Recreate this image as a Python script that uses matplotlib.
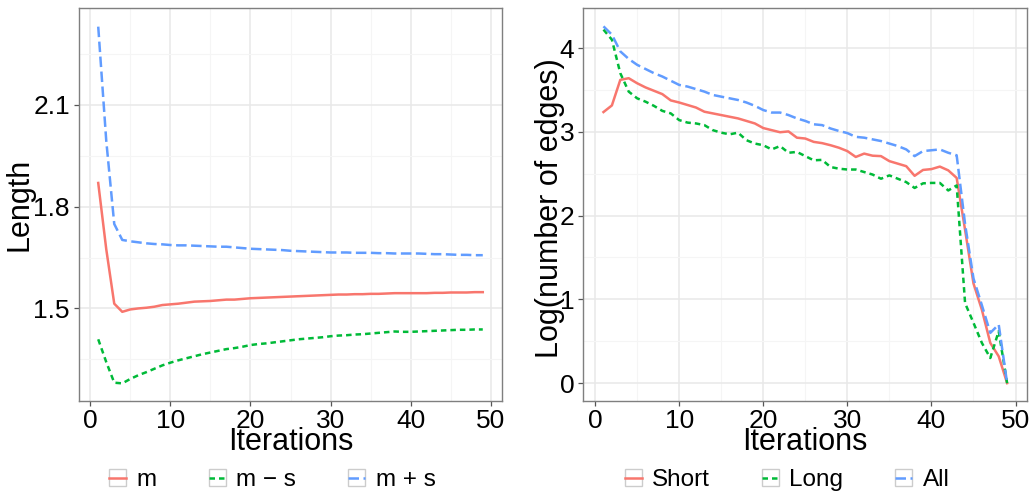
import numpy as np
import matplotlib
matplotlib.use("Agg")
import matplotlib.pyplot as plt
from matplotlib.lines import Line2D
from matplotlib.patches import Rectangle
from matplotlib.legend_handler import HandlerTuple
from matplotlib.ticker import MultipleLocator

plt.rcParams['font.family'] = ['Liberation Sans', 'DejaVu Sans']

# iterations
it = np.arange(1, 50)

# left panel: edge length, mean and mean -/+ sd
m = [1.870, 1.675, 1.514, 1.490, 1.497, 1.500, 1.502, 1.505, 1.510, 1.512,
     1.514, 1.517, 1.520, 1.521, 1.522, 1.524, 1.526, 1.526, 1.528, 1.530,
     1.531, 1.532, 1.533, 1.534, 1.535, 1.536, 1.537, 1.538, 1.539, 1.540,
     1.541, 1.541, 1.542, 1.542, 1.543, 1.543, 1.544, 1.545, 1.545, 1.545,
     1.545, 1.545, 1.546, 1.546, 1.547, 1.547, 1.547, 1.548, 1.548]
m_minus_s = [1.409, 1.342, 1.281, 1.279, 1.292, 1.303, 1.312, 1.322, 1.332, 1.340,
             1.347, 1.353, 1.359, 1.365, 1.370, 1.375, 1.380, 1.383, 1.387, 1.392,
             1.395, 1.397, 1.400, 1.403, 1.406, 1.409, 1.411, 1.413, 1.415, 1.418,
             1.420, 1.421, 1.423, 1.424, 1.426, 1.428, 1.430, 1.432, 1.431, 1.431,
             1.432, 1.433, 1.434, 1.435, 1.436, 1.437, 1.437, 1.438, 1.438]
m_plus_s = [2.331, 1.995, 1.749, 1.702, 1.698, 1.695, 1.692, 1.690, 1.689, 1.687,
            1.686, 1.686, 1.685, 1.684, 1.683, 1.682, 1.682, 1.680, 1.678, 1.676,
            1.675, 1.674, 1.673, 1.672, 1.670, 1.669, 1.668, 1.667, 1.666, 1.665,
            1.665, 1.665, 1.664, 1.664, 1.664, 1.663, 1.663, 1.662, 1.662, 1.662,
            1.662, 1.661, 1.660, 1.660, 1.659, 1.658, 1.658, 1.657, 1.657]

# right panel: log(number of edges)
short = [3.236, 3.315, 3.62, 3.64, 3.58, 3.53, 3.49, 3.45, 3.375, 3.35,
         3.32, 3.29, 3.24, 3.22, 3.20, 3.18, 3.16, 3.13, 3.10, 3.045,
         3.02, 2.995, 3.005, 2.93, 2.92, 2.88, 2.865, 2.84, 2.81, 2.77,
         2.70, 2.74, 2.715, 2.71, 2.65, 2.62, 2.59, 2.475, 2.545, 2.555,
         2.585, 2.54, 2.45, 1.83, 1.19, 0.875, 0.48, 0.32, 0.0]
long_ = [4.22, 4.10, 3.70, 3.48, 3.40, 3.36, 3.31, 3.25, 3.22, 3.14,
         3.11, 3.10, 3.08, 3.02, 2.99, 2.97, 2.99, 2.90, 2.86, 2.84,
         2.79, 2.83, 2.75, 2.76, 2.71, 2.66, 2.665, 2.58, 2.56, 2.55,
         2.55, 2.52, 2.49, 2.44, 2.48, 2.44, 2.40, 2.33, 2.385, 2.39,
         2.39, 2.30, 2.36, 0.955, 0.72, 0.48, 0.30, 0.62, 0.0]
all_ = [4.259, 4.16, 3.96, 3.87, 3.80, 3.75, 3.70, 3.66, 3.61, 3.56,
        3.54, 3.51, 3.48, 3.44, 3.42, 3.40, 3.38, 3.35, 3.31, 3.26,
        3.23, 3.23, 3.20, 3.16, 3.13, 3.09, 3.08, 3.04, 3.01, 2.985,
        2.94, 2.93, 2.91, 2.89, 2.86, 2.83, 2.79, 2.71, 2.77, 2.78,
        2.79, 2.75, 2.72, 1.90, 1.25, 0.93, 0.60, 0.70, 0.0]

RED, GREEN, BLUE = '#F8766D', '#00BA38', '#619CFF'
LW = 1.8
DASH_GREEN = (2.2, 1.6)
DASH_BLUE = (4.2, 1.8)

fig = plt.figure(figsize=(10.34, 4.94), dpi=100)
ax1 = fig.add_axes([79 / 1034, 1 - 401 / 494, 423 / 1034, 393 / 494])
ax2 = fig.add_axes([583.3 / 1034, 1 - 401 / 494, 444 / 1034, 393 / 494])


def style(ax):
    ax.set_facecolor('white')
    ax.set_axisbelow(True)
    for s in ax.spines.values():
        s.set_color('#7f7f7f')
        s.set_linewidth(1.0)
    ax.grid(True, which='major', color='#e8e8e8', lw=1.1)
    ax.grid(True, which='minor', color='#f5f5f5', lw=0.8)
    ax.tick_params(which='major', length=3.5, width=0.9, color='#555555',
                   labelsize=19, labelcolor='black')
    ax.tick_params(axis='x', pad=2)
    ax.tick_params(axis='y', pad=3)
    ax.tick_params(which='minor', length=0)
    ax.xaxis.set_major_locator(MultipleLocator(10))
    ax.xaxis.set_minor_locator(MultipleLocator(5))
    ax.set_xlim(-1.4, 51.4)
    ax.set_xlabel('Iterations', fontsize=22)
    ax.xaxis.set_label_coords(0.5, -0.067)


# left
ax1.plot(it, m, color=RED, lw=LW, solid_joinstyle='round')
ax1.plot(it, m_minus_s, color=GREEN, lw=LW, dashes=DASH_GREEN)
ax1.plot(it, m_plus_s, color=BLUE, lw=LW, dashes=DASH_BLUE)
style(ax1)
ax1.set_ylim(1.227, 2.386)
ax1.yaxis.set_minor_locator(MultipleLocator(0.15))
ax1.set_yticks([1.5, 1.8, 2.1])
ax1.set_yticklabels(['1.5', '1.8', '2.1'])
ax1.set_ylabel('Length', fontsize=22)
ax1.yaxis.set_label_coords(-0.106, 0.5)

# right
ax2.plot(it, short, color=RED, lw=LW, solid_joinstyle='round')
ax2.plot(it, long_, color=GREEN, lw=LW, dashes=DASH_GREEN)
ax2.plot(it, all_, color=BLUE, lw=LW, dashes=DASH_BLUE)
style(ax2)
ax2.set_ylim(-0.213, 4.478)
ax2.yaxis.set_major_locator(MultipleLocator(1))
ax2.yaxis.set_minor_locator(MultipleLocator(0.5))
ax2.set_ylabel('Log(number of edges)', fontsize=22)
ax2.yaxis.set_label_coords(-0.041, 0.49)


def key(color, dashes=None):
    box = Rectangle((0, 0), 1, 1, facecolor='white', edgecolor='#cccccc', lw=1.0)
    ln = Line2D([], [], color=color, lw=LW)
    if dashes:
        ln.set_dashes(dashes)
    return (box, ln)


for labels, cx in [(['m', 'm \u2212 s', 'm + s'], 272.5),
                   (['Short', 'Long', 'All'], 787)]:
    handles = [key(RED), key(GREEN, DASH_GREEN), key(BLUE, DASH_BLUE)]
    fig.legend(handles, labels, loc='center', ncol=3,
               bbox_to_anchor=(cx / 1034, 1 - 480 / 494),
               frameon=False, fontsize=17.5, handlelength=0.7,
               handleheight=0.74, handletextpad=0.42, columnspacing=2.15,
               borderpad=0, borderaxespad=0,
               handler_map={tuple: HandlerTuple(ndivide=1, pad=0)})

fig.savefig('out.png', dpi=100)
